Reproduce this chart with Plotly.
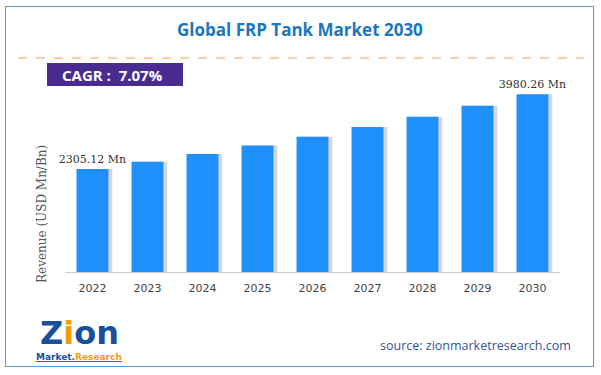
import plotly.graph_objects as go

years = ["2022", "2023", "2024", "2025", "2026", "2027", "2028", "2029", "2030"]
revenue = [2305.12, 2468, 2643, 2829, 3029, 3244, 3473, 3719, 3980.26]
label_idx = [0, 8]
title = "Global FRP Tank Market 2030"
cagr_text = "CAGR :  7.07%"
y_title = "Revenue (USD Mn/Bn)"
source = "source: zionmarketresearch.com"

W, H = 601, 375
L, R, T, B = 65, 560, 80, 272

def px(x):
    return (x - L) / (R - L)

def py(y):
    return (B - y) / (B - T)

bar_text = [f"{v:.2f} Mn" if i in label_idx else "" for i, v in enumerate(revenue)]

fig = go.Figure()
# shadow
fig.add_trace(go.Bar(x=years, y=revenue, width=0.58, offset=-0.29 + 0.07,
                     marker=dict(color="rgba(0,0,0,0.16)", line=dict(width=0)),
                     hoverinfo="skip", showlegend=False))
fig.add_trace(go.Bar(x=years, y=revenue, width=0.58, offset=-0.29,
                     marker=dict(color="#1e8ffb", line=dict(width=0)),
                     text=bar_text, textposition="outside", cliponaxis=False,
                     constraintext="none",
                     textfont=dict(family="DejaVu Serif", size=11, color="#333"),
                     showlegend=False))

fig.add_annotation(x=px(300), y=py(30), xref="paper", yref="paper", text=f"<b>{title}</b>",
                   showarrow=False, font=dict(family="Open Sans", size=17, color="#1b76c0"),
                   xanchor="center", yanchor="middle")
fig.add_annotation(x=px(112), y=py(75), xref="paper", yref="paper", text=f"<b>{cagr_text}</b>",
                   showarrow=False, font=dict(family="Open Sans", size=15, color="white"),
                   xanchor="center", yanchor="middle")
fig.add_annotation(x=px(42), y=py(214), xref="paper", yref="paper", text=y_title,
                   textangle=-90, showarrow=False,
                   font=dict(family="DejaVu Serif", size=12, color="#555"),
                   xanchor="center", yanchor="middle")
fig.add_annotation(x=px(573), y=py(345), xref="paper", yref="paper", text=source,
                   showarrow=False, font=dict(family="Open Sans", size=12.5, color="#2f5597"),
                   xanchor="right", yanchor="middle")
fig.add_annotation(x=px(79), y=py(333), xref="paper", yref="paper",
                   text="<b>Z<span style='color:#f39c12'>i</span>on</b>",
                   showarrow=False, font=dict(family="DejaVu Sans", size=32, color="#1a4f9c"),
                   xanchor="center", yanchor="middle")
fig.add_annotation(x=px(79), y=py(357), xref="paper", yref="paper",
                   text="<b><u>Market.<span style='color:#f39c12'>Research</span></u></b>",
                   showarrow=False, font=dict(family="DejaVu Sans", size=9, color="#1a4f9c"),
                   xanchor="center", yanchor="middle")

fig.add_shape(type="line", xref="paper", yref="paper", x0=px(18), x1=px(584), y0=py(58), y1=py(58),
              line=dict(color="#f0a060", width=1.2, dash="dash"))
fig.add_shape(type="rect", xref="paper", yref="paper", x0=px(47), x1=px(183), y0=py(86), y1=py(63),
              line=dict(width=0), fillcolor="#4a2c91", layer="below")

fig.update_layout(
    width=W, height=H, barmode="overlay",
    margin=dict(l=L, r=W - R, t=T, b=H - B),
    plot_bgcolor="white",
    xaxis=dict(showgrid=False, showline=True, linecolor="#cccccc", linewidth=1,
               ticks="", tickfont=dict(family="DejaVu Sans", size=11, color="#444"),
               ticklabelstandoff=6, range=[-0.5, 8.5]),
    yaxis=dict(range=[0, 22.38 * (B - T)], showgrid=False, showticklabels=False,
               zeroline=False, showline=False),
)
post = (
    "document.body.style.margin='0';document.body.style.overflow='hidden';"
    "var b=document.createElement('div');"
    "b.style.cssText='position:absolute;left:5px;top:6px;width:589px;height:361px;"
    "border:1.5px solid #5b9bd5;pointer-events:none;box-sizing:border-box;';"
    "document.body.appendChild(b);"
)
fig.write_html("out.html", config={"displayModeBar": False}, post_script=post)
